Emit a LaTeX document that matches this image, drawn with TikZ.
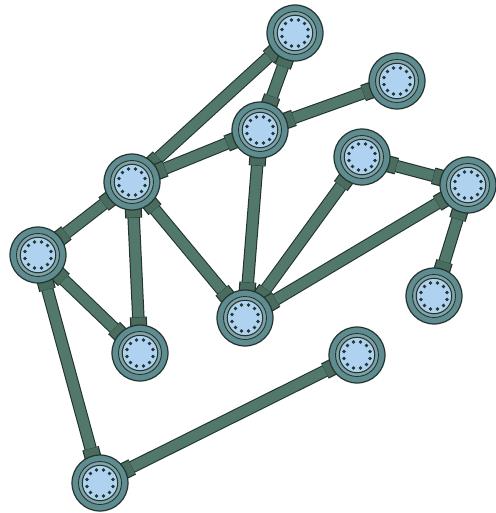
\documentclass[tikz,border=0pt]{standalone}
\usepackage{tikz}
\usetikzlibrary{calc, backgrounds}
\definecolor{pipegreen}{HTML}{51786A}
\definecolor{ringteal}{HTML}{5F8C91}
\definecolor{hubblue}{HTML}{AFD2F0}
\definecolor{edgedark}{HTML}{24352F}
\tikzset{
  hubnode/.style={circle,draw=edgedark,fill=ringteal,line width=0.7pt,minimum size=1.12cm,inner sep=0pt,
    path picture={
      \draw[edgedark,line width=0.5pt,fill=ringteal!80!white] (path picture bounding box.center) circle (0.43cm);
      \draw[edgedark,line width=0.6pt,fill=hubblue] (path picture bounding box.center) circle (0.355cm);
      \foreach \k in {0,...,11}
        \fill[edgedark] (path picture bounding box.center) ++(\k*30+15:0.27cm) circle (0.038cm);
    }},
  pipeout/.style={edgedark,line width=0.25cm},
  pipein/.style={pipegreen,line width=0.2cm},
  collarout/.style={edgedark,line width=0.34cm},
  collarin/.style={pipegreen!90!black,line width=0.29cm},
}
\newcommand\pipe[2]{%
  \draw[pipeout] (#1) -- (#2);
  \draw[pipein] (#1) -- (#2);
  \draw[collarout] ($(#1.center)!0.5cm!(#2.center)$) -- ($(#1.center)!0.72cm!(#2.center)$);
  \draw[collarin] ($(#1.center)!0.5cm!(#2.center)$) -- ($(#1.center)!0.71cm!(#2.center)$);
  \draw[collarout] ($(#2.center)!0.5cm!(#1.center)$) -- ($(#2.center)!0.72cm!(#1.center)$);
  \draw[collarin] ($(#2.center)!0.5cm!(#1.center)$) -- ($(#2.center)!0.71cm!(#1.center)$);
  \draw[pipein] ($(#1.center)!0.72cm!(#2.center)$) -- ($(#2.center)!0.72cm!(#1.center)$);
}

\begin{document}
\begin{tikzpicture}[x=0.02cm,y=-0.02cm]
  \useasboundingbox (0,0) rectangle (495,513);
  \node[hubnode] (nTop) at (295,33) {};
  \node[hubnode] (nNE) at (397,81) {};
  \node[hubnode] (nMid) at (260,130) {};
  \node[hubnode] (nLeft) at (132,182) {};
  \node[hubnode] (nRight) at (362,157) {};
  \node[hubnode] (nFar) at (468,185) {};
  \node[hubnode] (nWest) at (38,255) {};
  \node[hubnode] (nHub) at (245,318) {};
  \node[hubnode] (nLeaf) at (434,296) {};
  \node[hubnode] (nLow) at (140,353) {};
  \node[hubnode] (nSE) at (357,355) {};
  \node[hubnode] (nBot) at (100,483) {};
  \begin{scope}[on background layer]
    \pipe{nLeft}{nTop}
    \pipe{nMid}{nTop}
    \pipe{nMid}{nNE}
    \pipe{nLeft}{nMid}
    \pipe{nMid}{nHub}
    \pipe{nLeft}{nWest}
    \pipe{nLeft}{nLow}
    \pipe{nLeft}{nHub}
    \pipe{nRight}{nHub}
    \pipe{nFar}{nRight}
    \pipe{nFar}{nHub}
    \pipe{nFar}{nLeaf}
    \pipe{nWest}{nLow}
    \pipe{nWest}{nBot}
    \pipe{nBot}{nSE}
  \end{scope}
\end{tikzpicture}
\end{document}
